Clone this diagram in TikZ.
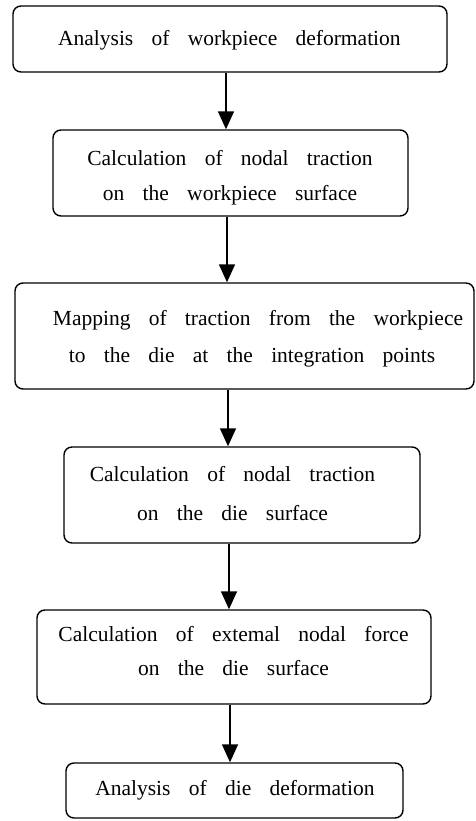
\documentclass[tikz,border=0pt]{standalone}
\usepackage{fontspec}
\setmainfont{Liberation Serif}[WordSpace=3.4]
\usetikzlibrary{arrows.meta}
\begin{document}
\begin{tikzpicture}[x=1pt,y=-1pt,
  box/.style={draw, line width=1.4pt, rounded corners=8pt, inner sep=0pt},
  txt/.style={align=center, inner sep=0pt},
  ls/.style={font=\fontsize{21.5}{#1}\selectfont},
  arr/.style={line width=1.5pt, -{Triangle[length=18pt,width=16pt]}}]
\useasboundingbox (0,0) rectangle (476,821);
% boxes
\node[box, minimum width=434pt, minimum height=66pt] (b1) at (230,39) {};
\node[box, minimum width=355pt, minimum height=86pt] (b2) at (230.5,173) {};
\node[box, minimum width=459pt, minimum height=106pt] (b3) at (244.5,336) {};
\node[box, minimum width=356pt, minimum height=96pt] (b4) at (242,495) {};
\node[box, minimum width=394pt, minimum height=94pt] (b5) at (234,657) {};
\node[box, minimum width=337pt, minimum height=55pt] (b6) at (234.5,790.5) {};
% texts
\node[txt, ls=37] (t1) at (229.4,40.7) {Analysis of workpiece deformation};
\node[txt, ls=35] (t2) at (230,177.5) {Calculation of nodal traction\\on the workpiece surface};
\node[txt, ls=36.7] (t3) at (258,338.4) {Mapping of traction from the workpiece\\\hspace*{-12pt}to the die at the integration points};
\node[txt, ls=38.3] (t4) at (232.5,493.5) {Calculation of nodal traction\\on the die surface};
\node[txt, ls=34] (t5) at (233.5,651.4) {Calculation of extemal nodal force\\on the die surface};
\node[txt, ls=37] (t6) at (235,790) {Analysis of die deformation};
% arrow columns
\coordinate (c1) at (226,0);
\coordinate (c2) at (227,0);
\coordinate (c3) at (228,0);
\coordinate (c4) at (229,0);
\coordinate (c5) at (230,0);
\draw[arr] (b1.south -| c1) -- (b2.north -| c1);
\draw[arr] (b2.south -| c2) -- (b3.north -| c2);
\draw[arr] (b3.south -| c3) -- (b4.north -| c3);
\draw[arr] (b4.south -| c4) -- (b5.north -| c4);
\draw[arr] (b5.south -| c5) -- (b6.north -| c5);
\end{tikzpicture}
\end{document}
